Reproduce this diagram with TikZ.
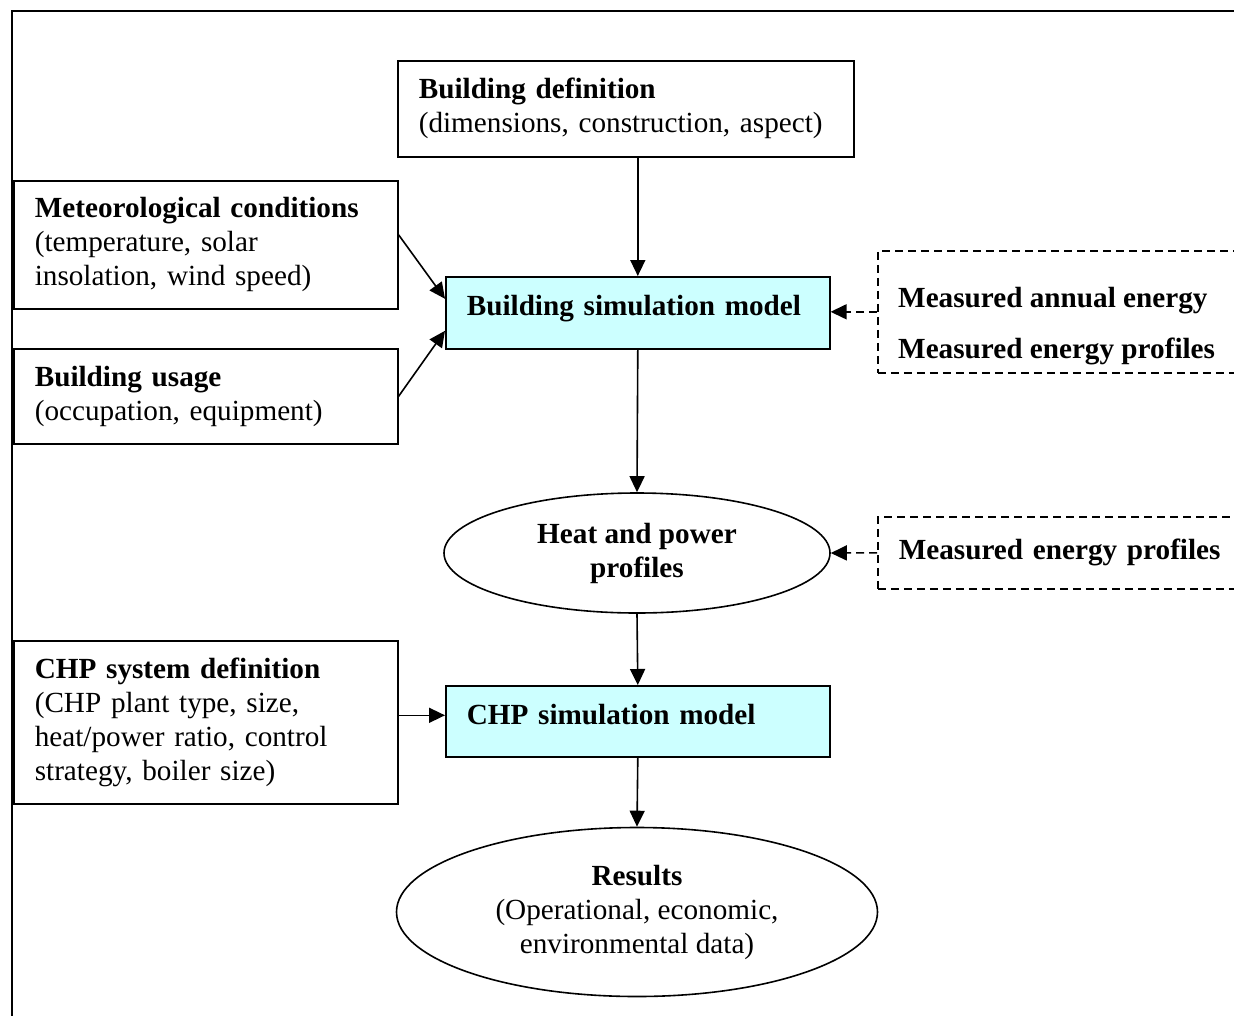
\documentclass[tikz,border=0pt]{standalone}
\usepackage{fontspec}
\setmainfont{Liberation Serif}
\usetikzlibrary{shapes.geometric,arrows.meta,calc}
\definecolor{simfill}{HTML}{CCFFFF}
\begin{document}
\begin{tikzpicture}[x=1pt,y=-1pt,
  every node/.style={font=\fontsize{29.2}{34}\selectfont},
  box/.style={draw,line width=1.6pt,rectangle,align=left,inner xsep=21pt,inner ysep=0pt,anchor=north west},
  simbox/.style={box,fill=simfill,text depth=14pt},
  dbox/.style={box,dashed,dash pattern=on 8pt off 5pt},
  txt/.style={anchor=base west,inner sep=0pt,font=\fontsize{29.2}{34}\selectfont\bfseries},
  oval/.style={draw,line width=1.6pt,ellipse,align=center,inner sep=0pt},
  arr/.style={line width=1.6pt,-{Triangle[length=16pt,width=15pt]}},
  darr/.style={arr,dash pattern=on 8pt off 5pt}]
\useasboundingbox (0,0) rectangle (1234,1015);
\fill[white] (0,0) rectangle (1234,1015);
\draw[line width=1.8pt] (12,1020) -- (12,11) -- (1240,11);

\node[box,minimum height=96pt,text width=414pt] (bdef) at (397,60)
  {\textbf{Building definition}\\(dimensions, construction, aspect)};
\node[box,minimum height=128pt,text width=342pt] (met) at (13,180)
  {\textbf{Meteorological conditions}\\(temperature, solar\\insolation, wind speed)};
\node[box,minimum height=95pt,text width=342pt] (use) at (13,348)
  {\textbf{Building usage}\\(occupation, equipment)};
\node[simbox,minimum height=72pt,text width=342pt] (bsm) at (445,276)
  {\textbf{Building simulation model}};
\node[dbox,minimum height=122pt,minimum width=400pt] (meas1) at (877,250) {};
\node[txt] (meas1a) at (898,307) {Measured annual energy};
\node[txt] (meas1b) at (898,358) {Measured energy profiles};
\node[oval,minimum width=386pt,minimum height=120pt] (hp) at (637,553)
  {\textbf{Heat and power}\\\textbf{profiles}};
\node[dbox,minimum height=72pt,text width=358pt] (meas2) at (877,516)
  {\textbf{Measured energy profiles}};
\node[box,minimum height=163pt,text width=342pt] (chpdef) at (13,640)
  {\textbf{CHP system definition}\\(CHP plant type, size,\\heat/power ratio, control\\strategy, boiler size)};
\node[simbox,minimum height=71pt,text width=342pt] (chpsim) at (445,685)
  {\textbf{CHP simulation model}};
\node[oval,minimum width=481pt,minimum height=169pt] (res) at (637,912)
  {\textbf{Results}\\(Operational, economic,\\environmental data)};

\draw[arr] (bsm.north |- bdef.south) -- (bsm.north);
\draw[arr] ($(met.east)+(0,-10)$) -- ($(bsm.west)+(0,-14)$);
\draw[arr] (use.east) -- ($(bsm.west)+(0,18)$);
\draw[darr] (meas1.west) -- (bsm.east |- meas1.west);
\draw[arr] (bsm.south) -- (hp.north);
\draw[darr] (meas2.west) -- (hp.east);
\draw[arr] (hp.south) -- (chpsim.north);
\draw[arr] ($(chpdef.east |- chpsim.west)+(0,-6)$) -- ($(chpsim.west)+(0,-6)$);
\draw[arr] (chpsim.south) -- (res.north);
\end{tikzpicture}
\end{document}
